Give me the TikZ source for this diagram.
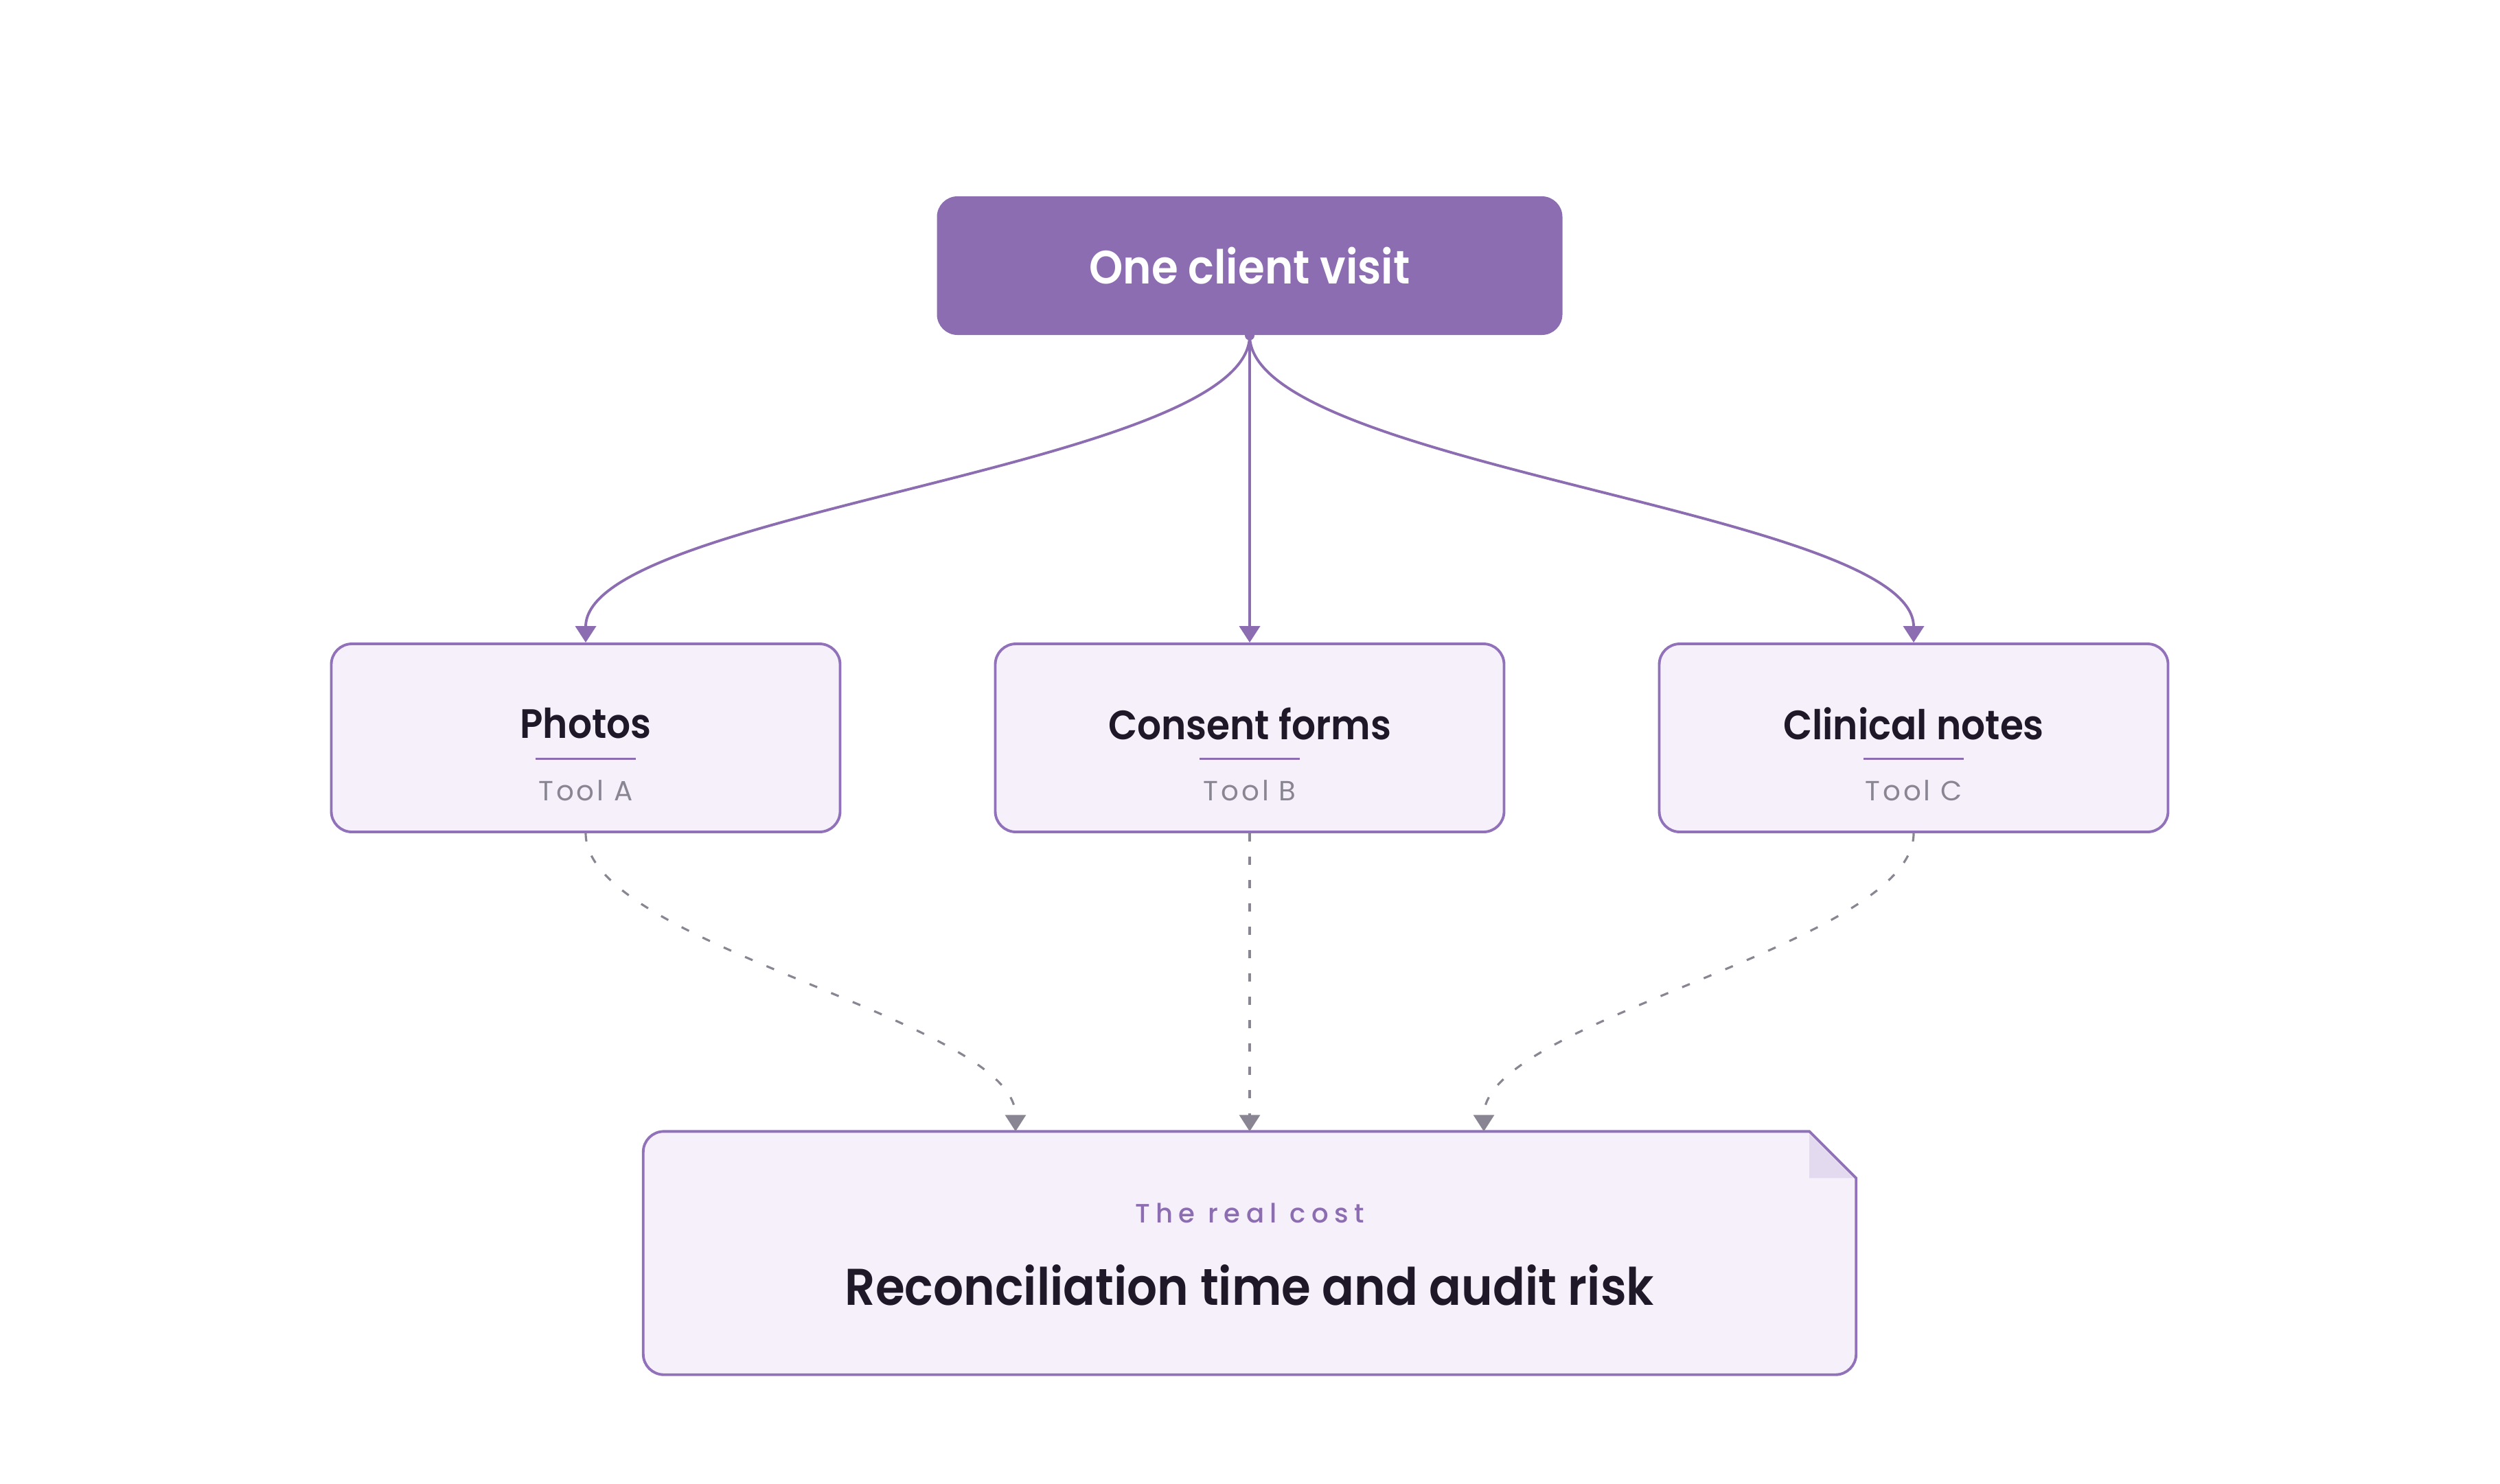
\documentclass[tikz,border=0pt]{standalone}
\usepackage{fontspec}
\setmainfont{Poppins}
\newfontfamily\headfont{Poppins SemiBold}[FakeStretch=0.92]
\newfontfamily\toolfont{Poppins}[LetterSpace=10]
\newfontfamily\kickerfont{Poppins Medium}[LetterSpace=22]
\usetikzlibrary{arrows.meta}

\definecolor{visitpurple}{HTML}{8C6DB1}
\definecolor{boxfill}{HTML}{F5F0FA}
\definecolor{boxline}{HTML}{9172BA}
\definecolor{inkdark}{HTML}{1E1828}
\definecolor{toolgray}{HTML}{8A8592}
\definecolor{foldfill}{HTML}{E4DAF0}

\tikzset{
  toolbox/.style={draw=boxline, fill=boxfill, line width=1.1pt, rounded corners=0.3cm,
    minimum width=7.41cm, minimum height=2.74cm},
  feed/.style={draw=visitpurple, line width=1.1pt, -{Triangle[width=0.3cm,length=0.24cm]}},
  leak/.style={draw=toolgray, line width=0.9pt, dash pattern=on 0.12cm off 0.22cm,
    -{Triangle[width=0.3cm,length=0.24cm]}}
}

\begin{document}
\begin{tikzpicture}
    \useasboundingbox (0,0) rectangle (36.41,-21.61);

    \node[fill=visitpurple, rounded corners=0.3cm, minimum width=9.11cm, minimum height=2.02cm,
          text=white, font=\headfont\fontsize{19.4}{23}\selectfont] (visit) at (18.20,-3.87) {One client visit};

    \foreach \name/\x/\title/\tool in {photos/8.53/Photos/Tool A, consent/18.20/Consent forms/Tool B, notes/27.87/Clinical notes/Tool C} {
        \node[toolbox] (\name) at (\x,-10.75) {};
        \node[text=inkdark, font=\headfont\fontsize{17}{20}\selectfont] (\name-title) at ([yshift=0.21cm]\name.center) {\title};
        \draw[visitpurple, line width=0.85pt] ([xshift=-0.73cm,yshift=-0.30cm]\name.center) -- ([xshift=0.73cm,yshift=-0.30cm]\name.center);
        \node[text=toolgray, font=\toolfont\fontsize{11.5}{14}\selectfont] (\name-tool) at ([yshift=-0.77cm]\name.center) {\tool};
    }

    % the real cost box, folded corner top right
    \node[minimum width=17.65cm, minimum height=3.53cm] (cost) at (18.20,-18.255) {};
    \draw[boxline, fill=boxfill, line width=1.1pt]
        ([xshift=-0.68cm]cost.north east) -- ([yshift=-0.68cm]cost.north east)
        [rounded corners=0.3cm] -- (cost.south east) -- (cost.south west) -- (cost.north west)
        [sharp corners] -- cycle;
    \fill[foldfill] ([xshift=-0.68cm,yshift=-0.04cm]cost.north east) -- ([xshift=-0.68cm,yshift=-0.68cm]cost.north east)
        -- ([xshift=-0.04cm,yshift=-0.68cm]cost.north east) -- cycle;
    \node[text=visitpurple, font=\kickerfont\fontsize{11}{13}\selectfont] (cost-kicker) at ([yshift=0.585cm]cost.center) {The real cost};
    \node[text=inkdark, font=\headfont\fontsize{21.4}{25}\selectfont] (cost-main) at ([yshift=-0.47cm]cost.center) {Reconciliation time and audit risk};

    \coordinate (in-a) at ([xshift=-3.41cm]cost.north);
    \coordinate (in-c) at ([xshift=3.41cm]cost.north);

    \fill[visitpurple] (visit.south) circle (0.07cm);
    \draw[feed] (visit.south) to[out=-90, in=90, looseness=0.46] (photos.north);
    \draw[feed] (visit.south) -- (consent.north);
    \draw[feed] (visit.south) to[out=-90, in=90, looseness=0.46] (notes.north);

    \draw[leak] (photos.south) to[out=-90, in=90, looseness=0.55] (in-a);
    \draw[leak] (consent.south) -- (cost.north);
    \draw[leak] (notes.south) to[out=-90, in=90, looseness=0.55] (in-c);
\end{tikzpicture}
\end{document}
